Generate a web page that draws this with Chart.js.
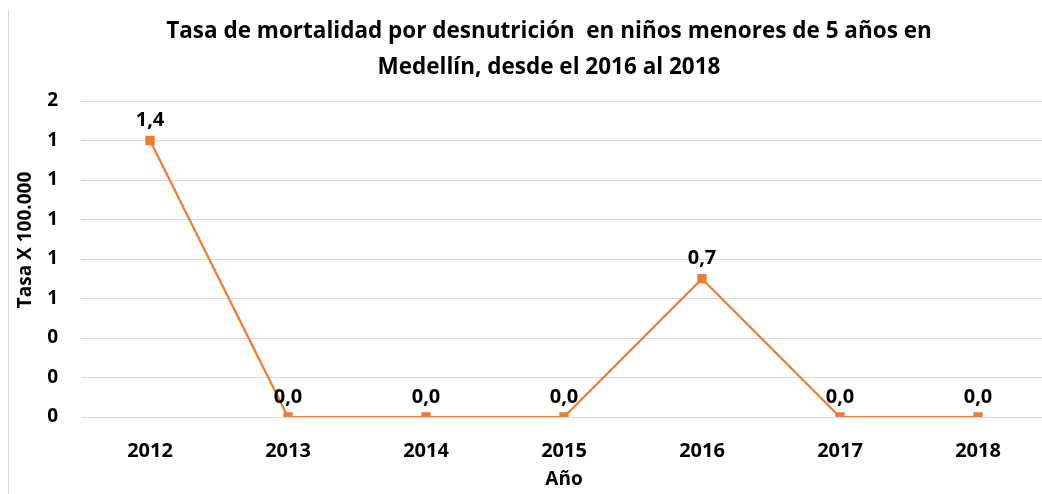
<!DOCTYPE html>
<html lang="es">
<head>
  <meta charset="UTF-8">
  <title>Tasa de mortalidad por desnutrición - Medellín</title>
  <script src="https://cdn.jsdelivr.net/npm/chart.js"></script>
  <style>
    body { margin: 0; background: #fff; overflow: hidden; }
    /* borde izquierdo del área del gráfico */
    #marco { position: absolute; left: 8px; top: 10px; bottom: 0; border-left: 1px solid #d9d9d9; }
    #chart-container { position: relative; width: 1098px; height: 494px; }
  </style>
</head>
<body>
  <div id="marco"></div>
  <div id="chart-container">
    <canvas id="tasaChart"></canvas>
  </div>

  <script>
    // Datos: años y tasa por 100.000 niños menores de 5 años
    const anios = ['2012', '2013', '2014', '2015', '2016', '2017', '2018'];
    const tasas = [1.4, 0.0, 0.0, 0.0, 0.7, 0.0, 0.0];
    const tituloLineas = ['Tasa de mortalidad por desnutrición  en niños menores de 5 años en',
                          'Medellín, desde el 2016 al 2018'];
    const tituloEjeY = 'Tasa X 100.000';

    const fuente = '"Open Sans", sans-serif';
    const naranja = '#ED7D31';

    // Etiquetas de valor encima de cada punto (formato con coma decimal)
    // y título vertical del eje Y, algo más arriba que el centro del eje
    const etiquetasValor = {
      id: 'etiquetasValor',
      afterDatasetsDraw(chart) {
        const ctx = chart.ctx;
        const meta = chart.getDatasetMeta(0);
        ctx.save();
        ctx.font = 'bold 20px ' + fuente;
        ctx.fillStyle = '#000';
        ctx.textAlign = 'center';
        ctx.textBaseline = 'middle';
        meta.data.forEach((pt, i) => {
          const txt = tasas[i].toFixed(1).replace('.', ',');
          ctx.fillText(txt, pt.x, pt.y - 20);
        });
        ctx.translate(26, 240);
        ctx.rotate(-Math.PI / 2);
        ctx.font = 'bold 19px ' + fuente;
        ctx.fillText(tituloEjeY, 0, 0);
        ctx.restore();
      }
    };

    const ctx = document.getElementById('tasaChart').getContext('2d');
    const tasaChart = new Chart(ctx, {
      type: 'line',
      data: {
        labels: anios,
        datasets: [{
          data: tasas,
          borderColor: naranja,
          backgroundColor: naranja,
          borderWidth: 2.25,
          pointStyle: 'rect',
          pointRadius: 5,
          pointHoverRadius: 5,
          tension: 0,
          yAxisID: 'y'
        }]
      },
      options: {
        responsive: true,
        maintainAspectRatio: false,
        animation: false,
        layout: { padding: 0 },
        plugins: {
          legend: { display: false },
          tooltip: { enabled: false },
          title: {
            display: true,
            text: tituloLineas,
            color: '#000',
            font: { family: fuente, size: 22.5, weight: 'bold', lineHeight: 1.6 },
            padding: { top: 14, bottom: 15 }
          }
        },
        scales: {
          x: {
            offset: true,
            grid: { display: false, offset: true },
            border: { display: false },
            ticks: {
              color: '#000',
              padding: 14,
              font: { family: fuente, size: 20, weight: 'bold' }
            },
            title: {
              display: true,
              text: 'Año',
              color: '#000',
              font: { family: fuente, size: 19, weight: 'bold' },
              padding: { top: 0, bottom: 3 }
            },
            afterFit(scale) { scale.height = 77; }
          },
          y: {
            min: 0,
            max: 1.6,
            ticks: {
              stepSize: 0.2,
              color: '#000',
              padding: 23,
              font: { family: fuente, size: 19, weight: 'bold' },
              callback: (v) => String(Math.round(v))
            },
            grid: { color: '#d9d9d9', lineWidth: 1, drawTicks: false },
            border: { display: false },
            afterFit(scale) { scale.width = 81; }
          },
          // eje derecho vacío, solo reserva espacio
          y2: {
            position: 'right',
            display: true,
            ticks: { display: false },
            grid: { display: false },
            border: { display: false },
            afterFit(scale) { scale.width = 51; }
          }
        }
      },
      plugins: [etiquetasValor]
    });
  </script>
</body>
</html>
